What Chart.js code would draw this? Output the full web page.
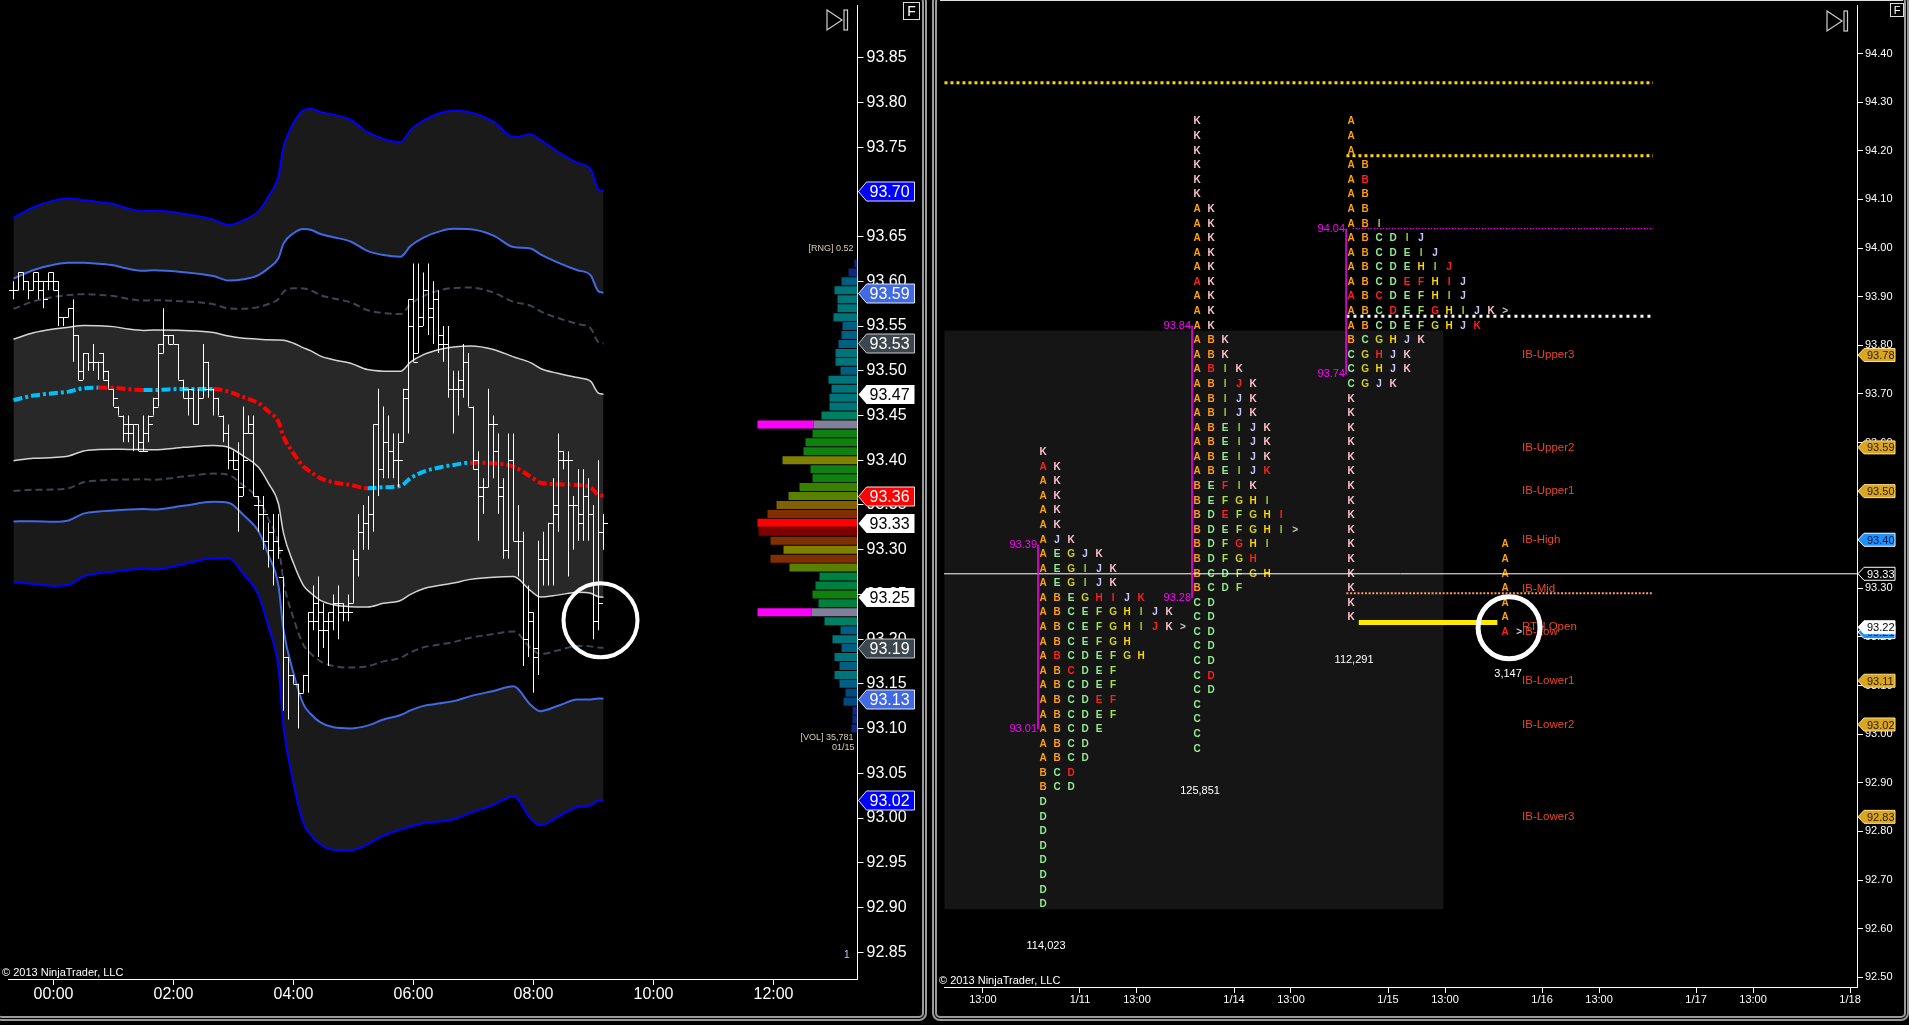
<!DOCTYPE html>
<html>
<head>
<meta charset="utf-8">
<title>Price bands and market profile</title>
<script src="https://cdn.jsdelivr.net/npm/chart.js@4.4.1/dist/chart.umd.min.js"></script>
<style>
  html, body { margin: 0; padding: 0; background: #000; }
  body { width: 1909px; height: 1025px; position: relative; overflow: hidden; font-family: "Liberation Sans", Arial, sans-serif; }
  .panel { position: absolute; top: 0; height: 1012px; }
  #leftPanel { left: 0; width: 922px; }
  #rightPanel { left: 937px; width: 966px; }
  .frame { position: absolute; top: -6px; height: 1027px; box-sizing: border-box; border: 5px double #9a9a9a; border-radius: 8px; }
  #leftFrame { left: -6px; width: 933px; }
  #rightFrame { left: 932px; width: 977px; }
  #rightTop { position: absolute; left: 940px; top: 0; width: 963px; height: 1px; background: #e0e0e0; }
  .fbox { position: absolute; border: 1px solid #ddd; color: #fff; text-align: center; box-sizing: border-box; }
  .endIcon { position: absolute; }
</style>
</head>
<body>
<div class="frame" id="leftFrame"></div>
<div class="frame" id="rightFrame"></div>
<div id="rightTop"></div>
<div class="panel" id="leftPanel"><canvas id="leftCanvas"></canvas></div>
<div class="panel" id="rightPanel"><canvas id="rightCanvas"></canvas></div>

<svg class="endIcon" style="left:826px;top:9px" width="24" height="23"><polygon points="1,1 16,11 1,21" fill="none" stroke="#cfcfcf" stroke-width="1.2"/><rect x="18" y="1" width="3.5" height="20" fill="none" stroke="#cfcfcf" stroke-width="1.2"/></svg>
<div class="fbox" style="left:903px;top:2px;width:17px;height:18px;font-size:14px;line-height:16px">F</div>
<svg class="endIcon" style="left:1826px;top:10px" width="24" height="23"><polygon points="1,1 16,11 1,21" fill="none" stroke="#cfcfcf" stroke-width="1.2"/><rect x="18" y="1" width="3.5" height="20" fill="none" stroke="#cfcfcf" stroke-width="1.2"/></svg>
<div class="fbox" style="left:1890px;top:3px;width:14px;height:14px;font-size:11px;line-height:12px">F</div>

<script>
// ---------- left panel: 5 minute bars, minutes from midnight ----------
const barStart = -40;   // first bar 23:20
const barStep = 5;
const barOpen = [
  93.59,93.59,93.61,93.60,93.59,93.61,93.60,93.60,93.61,93.60,
  93.56,93.56,93.57,93.54,93.50,93.52,93.51,93.51,93.52,93.50,
  93.48,93.46,93.45,93.43,93.43,93.44,93.41,93.43,93.45,93.46,
  93.52,93.54,93.54,93.53,93.49,93.48,93.47,93.44,93.47,93.51,
  93.48,93.47,93.45,93.43,93.40,93.40,93.37,93.43,93.44,93.35,
  93.35,93.31,93.32,93.31,93.27,93.18,93.16,93.15,93.14,93.16,
  93.22,93.24,93.21,93.22,93.23,93.24,93.23,93.23,93.24,93.29,
  93.32,93.33,93.34,93.44,93.39,93.42,93.41,93.40,93.42,93.47,
  93.58,93.52,93.56,93.59,93.56,93.58,93.53,93.53,93.48,93.48,
  93.49,93.51,93.46,93.40,93.37,93.37,93.44,93.41,93.37,93.30,
  93.40,93.31,93.31,93.20,93.22,93.19,93.29,93.29,93.33,93.35,
  93.40,93.40,93.35,93.35,93.34,93.36,93.34,93.22,93.32];
const barHigh = [
  93.60,93.61,93.61,93.60,93.61,93.61,93.60,93.61,93.61,93.60,
  93.56,93.57,93.58,93.54,93.52,93.52,93.53,93.51,93.52,93.50,
  93.48,93.46,93.45,93.45,93.44,93.44,93.45,93.45,93.47,93.53,
  93.57,93.54,93.54,93.53,93.49,93.48,93.48,93.48,93.53,93.51,
  93.48,93.47,93.45,93.44,93.41,93.42,93.46,93.45,93.45,93.36,
  93.36,93.33,93.34,93.34,93.27,93.18,93.16,93.15,93.16,93.23,
  93.26,93.27,93.24,93.23,93.25,93.26,93.24,93.25,93.30,93.34,
  93.35,93.36,93.44,93.48,93.46,93.45,93.43,93.43,93.48,93.58,
  93.62,93.62,93.61,93.62,93.60,93.59,93.55,93.55,93.50,93.50,
  93.53,93.52,93.46,93.41,93.38,93.48,93.45,93.43,93.38,93.43,
  93.43,93.35,93.32,93.26,93.23,93.31,93.32,93.33,93.38,93.43,
  93.41,93.41,93.36,93.39,93.39,93.38,93.35,93.40,93.34];
const barLow = [
  93.58,93.59,93.59,93.58,93.59,93.58,93.57,93.59,93.59,93.55,
  93.55,93.56,93.51,93.49,93.49,93.50,93.50,93.49,93.49,93.48,
  93.46,93.45,93.42,93.42,93.41,93.41,93.41,93.42,93.45,93.46,
  93.52,93.53,93.53,93.49,93.47,93.45,93.44,93.44,93.47,93.47,
  93.45,93.45,93.42,93.39,93.39,93.32,93.36,93.43,93.36,93.32,
  93.30,93.28,93.26,93.29,93.12,93.11,93.15,93.10,93.14,93.14,
  93.21,93.18,93.19,93.17,93.21,93.20,93.22,93.22,93.24,93.27,
  93.30,93.30,93.32,93.36,93.38,93.38,93.38,93.37,93.42,93.43,
  93.51,93.52,93.55,93.54,93.53,93.52,93.51,93.47,93.43,93.45,
  93.47,93.46,93.39,93.31,93.34,93.37,93.38,93.34,93.29,93.29,
  93.31,93.27,93.17,93.18,93.14,93.16,93.26,93.26,93.26,93.32,
  93.39,93.27,93.30,93.31,93.31,93.31,93.20,93.21,93.30];
const barClose = [
  93.59,93.61,93.60,93.59,93.60,93.59,93.58,93.60,93.59,93.56,
  93.56,93.57,93.54,93.49,93.52,93.51,93.51,93.51,93.49,93.48,
  93.47,93.45,93.44,93.44,93.44,93.42,93.41,93.44,93.47,93.53,
  93.54,93.53,93.53,93.49,93.47,93.48,93.44,93.47,93.48,93.48,
  93.47,93.45,93.43,93.40,93.39,93.36,93.40,93.43,93.36,93.34,
  93.34,93.30,93.31,93.30,93.18,93.16,93.15,93.14,93.16,93.23,
  93.22,93.23,93.21,93.22,93.24,93.24,93.23,93.23,93.29,93.32,
  93.33,93.34,93.44,93.39,93.42,93.41,93.40,93.40,93.48,93.55,
  93.51,93.55,93.59,93.57,93.58,93.54,93.53,93.48,93.48,93.48,
  93.51,93.46,93.39,93.36,93.37,93.44,93.44,93.36,93.30,93.40,
  93.31,93.31,93.20,93.23,93.18,93.29,93.29,93.33,93.34,93.41,
  93.40,93.40,93.35,93.33,93.36,93.34,93.22,93.24,93.33];

// VWAP and its standard deviation, read at these minutes
const bandTimes = [-40,-20,0,15,30,45,60,75,90,100,130,160,175,190,205,215,225,230,240,250,
  257,267,280,297,314,330,347,357,370,387,400,417,440,460,477,487,504,524,537,545,550];
const vwapValues = [93.4674,93.4723,93.4749,93.4767,93.4805,93.4812,93.4809,93.4794,93.4786,93.4786,
  93.4797,93.4797,93.4767,93.4705,93.4638,93.4544,93.4428,93.4264,93.4078,93.3928,
  93.3872,93.3799,93.3754,93.3724,93.3687,93.3698,93.3713,93.3799,93.3872,93.3922,
  93.3947,93.3973,93.3966,93.3928,93.3817,93.3749,93.3732,93.3724,93.3698,93.3612,93.3604];
const sdValues = [0.0679,0.0702,0.0718,0.0720,0.0701,0.0692,0.0685,0.0673,0.0666,0.0669,
  0.0653,0.0631,0.0621,0.0659,0.0716,0.0802,0.0917,0.1079,0.1230,0.1329,
  0.1353,0.1365,0.1370,0.1361,0.1327,0.1298,0.1281,0.1298,0.1309,0.1320,
  0.1320,0.1305,0.1273,0.1228,0.1275,0.1277,0.1240,0.1200,0.1186,0.1138,0.1135];

// volume profile of the session, one row per 0.01
const profileTop = 93.62;
const profileVolume = [3,9,16,23,20,20,24,15,16,19,22,22,17,29,26,28,28,36,44,45,
  52,54,75,47,45,58,69,81,90,100,99,87,74,87,68,38,42,45,39,46,
  33,17,25,16,23,18,23,18,12,14,5,5,6];
const valueAreaPrices = [93.44, 93.23];
const sessionVolume = 35781;

const leftTickMinutes = [0, 120, 240, 360, 480, 600, 720];
const leftTickLabels = ['00:00','02:00','04:00','06:00','08:00','10:00','12:00'];
const leftPriceTicks = [93.85,93.80,93.75,93.70,93.65,93.60,93.55,93.50,93.45,93.40,93.35,93.30,
  93.25,93.20,93.15,93.10,93.05,93.00,92.95,92.90,92.85];

// ---------- right panel: TPO profiles ----------
const tpoSession = [0.76, 1.76, 2.76, 3.76];
const tpoTop = [93.58, 94.26, 94.26, 93.39];
const tpoTick = 0.03;
const tpoRows1 = ['K','aK','AK','AK','AK','AK','AJK','AEGJK','AEGIJK','AEGIJK','ABEGhiJk','ABCEFGHIJK',
  'ABCEFGHIjK>','ABCEFGH','AbCDEFGH','ABcDEF','ABCDEF','ABCDef','ABCDEF','ABCDE','ABCD','ABCD','BCd','BCD',
  'D','D','D','D','D','D','D','D'];
const tpoRows2 = ['K','K','K','K','K','K','AK','AK','AK','AK','AK','aK','AK','AK','AK','ABK','ABK','AbIK',
  'ABIjK','ABIJK','ABIJK','ABEIJK','ABEIJK','ABEIJK','ABEIJk','BEfIK','BEFGHI','BDeFGHi','BDEFGHI>','BDFgHI',
  'BDFGh','BCDFGH','BCDF','CD','CD','CD','CD','CD','Cd','CD','C','C','C','C'];
const tpoRows3 = ['A','A','A','AB','Ab','AB','AB','ABI','ABCDIJ','ABCDEIJ','ABCDEHIj','ABCDefHiJ','aBcDEFHIJ',
  'ABCdEFgHIJK>','ABCDEFGHJk','BCGHJK','CGhJK','CGHJK','CGJK','K','K','K','K','K','K','K','K','K','K','K','K',
  'K','K','K','K'];
const tpoRows4 = ['A','A','A','A','A','A','a>'];
const vaHigh = [93.39, 93.84, 94.04];
const vaLow = [93.01, 93.28, 93.74];
const tpoVolume = [114023, 125851, 112291, 3147];

const ibNames = ['IB-Upper3','IB-Upper2','IB-Upper1','IB-High','IB-Mid','RTH Open','IB-Low','IB-Lower1','IB-Lower2','IB-Lower3'];
const ibPrices = [93.78, 93.59, 93.50, 93.40, 93.30, 93.22, 93.21, 93.11, 93.02, 92.83];

const refLinePrice = [94.34, 94.19, 94.04, 93.86, 93.29, 93.23];
const refLineFrom = [0.12, 2.73, 2.77, 2.73, 2.73, 2.81];
const refLineTo = [4.72, 4.72, 4.72, 4.72, 4.72, 3.71];
const rangeBoxX = [0.12, 3.36];
const rangeBoxPrice = [92.64, 93.83];

const rightTickPos = [0.37, 1, 1.37, 2, 2.37, 3, 3.37, 4, 4.37, 5, 5.37, 6];
const rightTickLabels = ['13:00','1/11','13:00','1/14','13:00','1/15','13:00','1/16','13:00','1/17','13:00','1/18'];
const rightPriceTicks = [94.40,94.30,94.20,94.10,94.00,93.90,93.80,93.70,93.60,93.50,93.40,93.30,
  93.20,93.10,93.00,92.90,92.80,92.70,92.60,92.50];

// ---------- helpers ----------
const FONT = '"Liberation Sans", Arial, sans-serif';
Chart.defaults.font.family = FONT;
Chart.defaults.color = '#fff';

const barTime = i => barStart + i * barStep;
const lastPrice = barClose[barClose.length - 1];
const maxVol = Math.max(...profileVolume);

function bandData(k) {
  return bandTimes.map((t, i) => ({ x: t, y: vwapValues[i] + k * sdValues[i] }));
}

function volColor(v) {
  const r = v / maxVol;
  if (r >= 1) return '#ff0000';
  if (r >= 0.95) return '#800000';
  if (r >= 0.85) return '#803000';
  if (r >= 0.78) return '#806000';
  if (r >= 0.7) return '#808000';
  if (r >= 0.6) return '#5a8000';
  if (r >= 0.55) return '#3a8000';
  if (r >= 0.44) return '#108010';
  if (r >= 0.37) return '#008040';
  if (r >= 0.3) return '#008060';
  if (r >= 0.2) return '#007478';
  if (r >= 0.15) return '#005e80';
  if (r >= 0.1) return '#004a80';
  return '#10287a';
}

function drawTag(ctx, x0, yc, text, bg, fg, bd, h, w, aw, font) {
  ctx.beginPath();
  ctx.moveTo(x0, yc);
  ctx.lineTo(x0 + aw, yc - h / 2);
  ctx.lineTo(x0 + w, yc - h / 2);
  ctx.lineTo(x0 + w, yc + h / 2);
  ctx.lineTo(x0 + aw, yc + h / 2);
  ctx.closePath();
  ctx.fillStyle = bg;
  ctx.fill();
  if (bd) { ctx.strokeStyle = bd; ctx.lineWidth = 1; ctx.stroke(); }
  ctx.fillStyle = fg;
  ctx.font = font;
  ctx.textAlign = 'left';
  ctx.textBaseline = 'middle';
  ctx.fillText(text, x0 + aw + 3, yc + 1);
}

// keep the plot area exactly where the layout padding puts it
const noEdgePadding = s => { s.paddingTop = 0; s.paddingBottom = 0; s.paddingLeft = 0; s.paddingRight = 0; };

const noHover = { legend: { display: false }, tooltip: { enabled: false }, filler: { drawTime: 'beforeDatasetsDraw' } };

// ---------- left chart ----------
const leftOverlay = {
  id: 'leftOverlay',
  afterDatasetsDraw(chart) {
    const { ctx, scales: { x, y } } = chart;
    // open / close ticks of each bar
    ctx.save();
    ctx.strokeStyle = '#fff';
    ctx.lineWidth = 1;
    ctx.beginPath();
    barOpen.forEach((o, i) => {
      const px = x.getPixelForValue(barTime(i));
      const yo = Math.round(y.getPixelForValue(o)) + 0.5;
      const yc = Math.round(y.getPixelForValue(barClose[i])) + 0.5;
      ctx.moveTo(px - 4.5, yo); ctx.lineTo(px, yo);
      ctx.moveTo(px, yc); ctx.lineTo(px + 4.5, yc);
    });
    ctx.stroke();

    // circle annotation
    ctx.beginPath();
    ctx.strokeStyle = '#fff';
    ctx.lineWidth = 4;
    ctx.arc(x.getPixelForValue(547), y.getPixelForValue(93.221), 37, 0, Math.PI * 2);
    ctx.stroke();
    ctx.restore();
  },
  afterDraw(chart) {
    const { ctx, chartArea: a, scales: { y } } = chart;
    ctx.save();
    // profile info texts
    const rng = (profileVolume.length - 1) * 0.01;
    ctx.font = '9px ' + FONT;
    ctx.textAlign = 'right';
    ctx.textBaseline = 'middle';
    ctx.fillStyle = '#d8d0b0';
    ctx.fillText('[RNG] ' + rng.toFixed(2), a.right - 4, y.getPixelForValue(profileTop) - 15);
    const yBottom = y.getPixelForValue(profileTop - rng);
    ctx.fillText('[VOL] ' + sessionVolume.toLocaleString('en-US'), a.right - 4, yBottom + 9);
    ctx.fillText('01/15', a.right - 3, yBottom + 19);
    ctx.fillStyle = '#c8c8ff';
    ctx.font = '10px ' + FONT;
    ctx.fillText('1', a.right - 8, a.bottom - 24);

    ctx.fillStyle = '#fff';
    ctx.textAlign = 'left';
    ctx.font = '11px ' + FONT;
    ctx.fillText('\u00a9 2013 NinjaTrader, LLC', 2, a.bottom - 6);

    // price markers at the right axis
    const n = bandTimes.length - 1;
    const tags = [
      { v: vwapValues[n] + 3 * sdValues[n], bg: '#0000ff', fg: '#fff', bd: '#e0e0ff' },
      { v: vwapValues[n] + 2 * sdValues[n], bg: '#4169e1', fg: '#fff', bd: '#e0e8ff' },
      { v: vwapValues[n] + 1.5 * sdValues[n], bg: '#3c464e', fg: '#fff', bd: '#c8c8c8' },
      { v: vwapValues[n] + sdValues[n], bg: '#ffffff', fg: '#000', bd: null },
      { v: vwapValues[n], bg: '#ff0000', fg: '#fff', bd: '#ffe0e0' },
      { v: lastPrice, bg: '#ffffff', fg: '#000', bd: null },
      { v: vwapValues[n] - sdValues[n], bg: '#ffffff', fg: '#000', bd: null },
      { v: vwapValues[n] - 1.5 * sdValues[n], bg: '#3c464e', fg: '#fff', bd: '#c8c8c8' },
      { v: vwapValues[n] - 2 * sdValues[n], bg: '#4169e1', fg: '#fff', bd: '#e0e8ff' },
      { v: vwapValues[n] - 3 * sdValues[n], bg: '#0000ff', fg: '#fff', bd: '#e0e0ff' }
    ];
    tags.forEach(t => {
      drawTag(ctx, a.right + 1, Math.round(y.getPixelForValue(t.v)) + 0.5, t.v.toFixed(2), t.bg, t.fg, t.bd, 19, 56, 8, '16px ' + FONT);
    });
    ctx.restore();
  }
};

const leftChart = new Chart(document.getElementById('leftCanvas'), {
  type: 'line',
  data: {
    datasets: [
      { data: bandData(3), borderColor: '#0000ff', borderWidth: 2, fill: '+1', backgroundColor: '#1a1a1a', order: 10 },
      { data: bandData(2), borderColor: '#4169e1', borderWidth: 2, fill: false, order: 10 },
      { data: bandData(1.5), borderColor: '#3b464e', borderWidth: 2, borderDash: [7, 4], fill: false, order: 10 },
      { data: bandData(1), borderColor: '#d4d4d4', borderWidth: 1.5, fill: 5, backgroundColor: '#282828', order: 10 },
      { data: bandData(0), borderWidth: 4, borderDash: [9, 3, 3, 3], fill: false, order: 2,
        segment: { borderColor: c => c.p1.parsed.y >= c.p0.parsed.y ? '#00bfff' : '#ff0000' } },
      { data: bandData(-1), borderColor: '#d4d4d4', borderWidth: 1.5, fill: false, order: 10 },
      { data: bandData(-1.5), borderColor: '#3b464e', borderWidth: 2, borderDash: [7, 4], fill: false, order: 10 },
      { data: bandData(-2), borderColor: '#4169e1', borderWidth: 2, fill: '+1', backgroundColor: '#1a1a1a', order: 10 },
      { data: bandData(-3), borderColor: '#0000ff', borderWidth: 2, fill: false, order: 10 },
      { type: 'bar', data: barHigh.map((h, i) => ({ x: barTime(i), y: [barLow[i], h] })),
        backgroundColor: '#ffffff', barThickness: 1, inflateAmount: 0, grouped: false, order: 1 },
      { type: 'bar', indexAxis: 'y', xAxisID: 'xv', yAxisID: 'y',
        data: profileVolume.map((v, i) => ({ x: v, y: profileTop - i * 0.01 })),
        backgroundColor: profileVolume.map((v, i) => {
          const p = +(profileTop - i * 0.01).toFixed(2);
          return valueAreaPrices.includes(p) ? '#80809a' : volColor(v);
        }),
        barThickness: 8, inflateAmount: 0, grouped: false, order: 3 },
      { type: 'bar', indexAxis: 'y', xAxisID: 'xv', yAxisID: 'y',
        data: valueAreaPrices.map(p => ({ x: [profileVolume[Math.round((profileTop - p) / 0.01)], maxVol], y: p })),
        backgroundColor: '#ff00ff', barThickness: 8, inflateAmount: 0, grouped: false, order: 3 }
    ]
  },
  options: {
    animation: false, responsive: true, maintainAspectRatio: false, events: [],
    layout: { padding: { left: 8.5, top: 5, right: 0, bottom: 0 } },
    plugins: noHover,
    elements: { point: { radius: 0 }, line: { cubicInterpolationMode: 'monotone' } },
    scales: {
      x: {
        type: 'linear', min: -45, max: 804, offset: false,
        afterBuildTicks: s => { s.ticks = leftTickMinutes.map(v => ({ value: v })); },
        afterFit: s => { s.height = 33; noEdgePadding(s); },
        ticks: { callback: (v, i) => leftTickLabels[i], autoSkip: false, maxRotation: 0, padding: 0, color: '#fff', font: { size: 16 } },
        grid: { offset: false, drawOnChartArea: false, tickLength: 6, color: '#fff' },
        border: { color: '#fff' }
      },
      y: {
        type: 'linear', position: 'right', min: 92.82, max: 93.909, offset: false,
        afterBuildTicks: s => { s.ticks = leftPriceTicks.map(v => ({ value: v })); },
        afterFit: s => { s.width = 64.5; noEdgePadding(s); },
        ticks: { callback: v => v.toFixed(2), autoSkip: false, padding: 3, color: '#fff', font: { size: 16 } },
        grid: { offset: false, drawOnChartArea: false, tickLength: 6, color: '#fff' },
        border: { color: '#fff' }
      },
      xv: { type: 'linear', display: false, reverse: true, offset: false, min: 0, max: maxVol * 8.49 }
    }
  },
  plugins: [leftOverlay]
});

// ---------- right chart ----------
const tpoColors = { A: '#ffa500', B: '#ff9c1a', C: '#90ee90', D: '#90ee90', E: '#98e898', F: '#a8e050',
  G: '#d0d020', H: '#ffd700', I: '#9acd32', J: '#c8c8ff', K: '#ffc4d0' };
const tpoRows = [tpoRows1, tpoRows2, tpoRows3, tpoRows4];
const xMinR = 0.117, xMaxR = 6.045;

const rightOverlay = {
  id: 'rightOverlay',
  beforeDatasetsDraw(chart) {
    const { ctx, scales: { x, y } } = chart;
    ctx.save();
    const bx0 = x.getPixelForValue(Math.max(rangeBoxX[0], xMinR));
    const bx1 = x.getPixelForValue(rangeBoxX[1]);
    const by0 = y.getPixelForValue(rangeBoxPrice[1]);
    const by1 = y.getPixelForValue(rangeBoxPrice[0]);
    ctx.fillStyle = '#151515';
    ctx.fillRect(bx0, by0, bx1 - bx0, by1 - by0);

    // TPO letters, lower case = red letter
    ctx.font = 'bold 10px ' + FONT;
    ctx.textAlign = 'center';
    ctx.textBaseline = 'middle';
    tpoRows.forEach((rows, p) => {
      const px = x.getPixelForValue(tpoSession[p]);
      rows.forEach((row, r) => {
        const py = y.getPixelForValue(tpoTop[p] - r * tpoTick);
        [...row].forEach((ch, c) => {
          if (ch === '>') ctx.fillStyle = '#c8c8c8';
          else if (ch !== ch.toUpperCase()) ctx.fillStyle = '#ff2020';
          else ctx.fillStyle = tpoColors[ch];
          ctx.fillText(ch.toUpperCase(), px + c * 14, py);
        });
      });
      // session volume below the profile
      ctx.font = '11px ' + FONT;
      ctx.fillStyle = '#fff';
      const bottom = y.getPixelForValue(tpoTop[p] - (rows.length - 1) * tpoTick);
      ctx.fillText(tpoVolume[p].toLocaleString('en-US'), px + 3, bottom + 42);
      ctx.font = 'bold 10px ' + FONT;
    });
    ctx.restore();
  },
  afterDatasetsDraw(chart) {
    const { ctx, scales: { x, y } } = chart;
    ctx.save();
    // value area lines + labels
    vaHigh.forEach((hi, p) => {
      const lx = x.getPixelForValue(tpoSession[p]) - 5;
      ctx.strokeStyle = '#ff00ff';
      ctx.lineWidth = 1.5;
      ctx.beginPath();
      ctx.moveTo(lx, y.getPixelForValue(hi));
      ctx.lineTo(lx, y.getPixelForValue(vaLow[p]));
      ctx.stroke();
      ctx.fillStyle = '#ff00ff';
      ctx.font = '11px ' + FONT;
      ctx.textAlign = 'right';
      ctx.textBaseline = 'middle';
      ctx.fillText(hi.toFixed(2), lx - 1, y.getPixelForValue(hi));
      ctx.fillText(vaLow[p].toFixed(2), lx - 1, y.getPixelForValue(vaLow[p]));
    });
    // initial balance labels
    ctx.font = '11.5px ' + FONT;
    ctx.textAlign = 'left';
    ctx.fillStyle = '#e8472e';
    ibNames.forEach((name, i) => ctx.fillText(name, x.getPixelForValue(3.87), y.getPixelForValue(ibPrices[i])));
    // circle annotation
    ctx.strokeStyle = '#fff';
    ctx.lineWidth = 5;
    ctx.beginPath();
    ctx.arc(x.getPixelForValue(3.786), y.getPixelForValue(93.219), 31, 0, Math.PI * 2);
    ctx.stroke();
    ctx.restore();
  },
  afterDraw(chart) {
    const { ctx, chartArea: a, scales: { y } } = chart;
    ctx.save();
    ctx.fillStyle = '#fff';
    ctx.font = '11px ' + FONT;
    ctx.textAlign = 'left';
    ctx.textBaseline = 'middle';
    ctx.fillText('\u00a9 2013 NinjaTrader, LLC', 2, a.bottom - 6);
    const tagColor = ['#daa520', '#daa520', '#daa520', '#1e90ff', null, '#ffffff', '#1e90ff', '#daa520', '#daa520', '#daa520'];
    for (let i = ibPrices.length - 1; i >= 0; i--) {
      if (!tagColor[i]) continue;
      const bd = tagColor[i] === '#daa520' ? '#ffe08a' : '#ffffff';
      const fg = tagColor[i] === '#daa520' ? '#2a1e00' : '#001a33';
      drawTag(ctx, a.right + 1, y.getPixelForValue(ibPrices[i]), ibPrices[i].toFixed(2), tagColor[i], tagColor[i] === '#ffffff' ? '#000' : fg, bd, 13, 37, 6, '11px ' + FONT);
    }
    drawTag(ctx, a.right + 1, y.getPixelForValue(lastPrice), lastPrice.toFixed(2), '#000', '#fff', '#fff', 13, 37, 6, '11px ' + FONT);
    ctx.restore();
  }
};

const refLineColor = ['#ffd700', '#ffd700', '#ff00ff', '#ffffff', '#ff9966', '#ffea00'];
const refLineWidth = [3, 3, 1, 3, 2, 5];
const refLineDash = [[3, 3], [3, 3], [1.5, 1.5], [3, 4], [2, 1.7], []];

new Chart(document.getElementById('rightCanvas'), {
  type: 'line',
  data: {
    datasets: refLinePrice.map((p, i) => ({
      data: [{ x: refLineFrom[i], y: p }, { x: refLineTo[i], y: p }],
      borderColor: refLineColor[i], borderWidth: refLineWidth[i], borderDash: refLineDash[i], fill: false
    })).concat([{
      data: [{ x: xMinR, y: lastPrice }, { x: xMaxR, y: lastPrice }],
      borderColor: '#ffffff', borderWidth: 1, fill: false
    }])
  },
  options: {
    animation: false, responsive: true, maintainAspectRatio: false, events: [],
    layout: { padding: { left: 7, top: 5, right: 0, bottom: 0 } },
    plugins: noHover,
    elements: { point: { radius: 0 } },
    scales: {
      x: {
        type: 'linear', min: xMinR, max: xMaxR,
        afterBuildTicks: s => { s.ticks = rightTickPos.map(v => ({ value: v })); },
        afterFit: s => { s.height = 25; noEdgePadding(s); },
        ticks: { callback: (v, i) => rightTickLabels[i], autoSkip: false, maxRotation: 0, padding: 0, color: '#fff', font: { size: 11 } },
        grid: { drawOnChartArea: false, tickLength: 6, color: '#fff' },
        border: { color: '#fff' }
      },
      y: {
        type: 'linear', position: 'right', min: 92.48, max: 94.50,
        afterBuildTicks: s => { s.ticks = rightPriceTicks.map(v => ({ value: v })); },
        afterFit: s => { s.width = 46; noEdgePadding(s); },
        ticks: { callback: v => v.toFixed(2), autoSkip: false, padding: 2, color: '#fff', font: { size: 11 } },
        grid: { drawOnChartArea: false, tickLength: 6, color: '#fff' },
        border: { color: '#fff' }
      }
    }
  },
  plugins: [rightOverlay]
});
</script>
</body>
</html>
